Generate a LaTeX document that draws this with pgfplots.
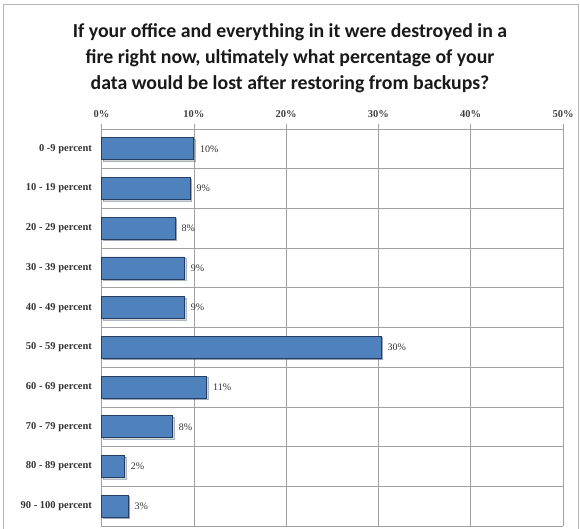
\documentclass[border=0pt]{standalone}
\usepackage{pgfplots}
\pgfplotsset{compat=1.18}
\usepackage{fontspec}
\setmainfont{Liberation Serif}
\newfontfamily\titlefont{Carlito}
\usetikzlibrary{shadows}
\definecolor{barblue}{RGB}{79,129,189}
\definecolor{barline}{RGB}{36,62,102}
\definecolor{gridgray}{RGB}{160,160,160}
\definecolor{framegray}{RGB}{180,180,180}
\begin{document}
\begin{tikzpicture}[x=1pt,y=1pt]
\path[use as bounding box] (-101.5,-3) rectangle (478.5,526);
\draw[framegray, line width=0.8pt] (-98.5,-20) rectangle (476.5,522);
\node[align=center, font=\titlefont\bfseries\fontsize{19.8}{26}\selectfont, text=black!90] at (188.5,468)
  {If your office and everything in it were destroyed in a\\fire right now, ultimately what percentage of your\\data would be lost after restoring from backups?};
\begin{axis}[
  at={(0,0)}, anchor=south west,
  scale only axis, width=461.5pt, height=397pt,
  xbar, bar width=22pt,
  xmin=0, xmax=50,
  ymin=-0.5, ymax=9.5, y dir=reverse,
  xtick={0,10,20,30,40,50},
  xticklabels={0\%,10\%,20\%,30\%,40\%,50\%},
  xticklabel pos=right,
  x tick label style={font=\fontsize{10.5}{12}\selectfont\bfseries, text=black!75, yshift=3pt},
  xmajorgrids, grid style={gridgray, line width=0.6pt},
  ytick={0,...,9},
  yticklabels={0 -9 percent,10 - 19 percent,20 - 29 percent,30 - 39 percent,40 - 49 percent,50 - 59 percent,60 - 69 percent,70 - 79 percent,80 - 89 percent,90 - 100 percent},
  y tick label style={font=\fontsize{10.5}{12}\selectfont\bfseries, text=black!80, xshift=-1pt},
  extra y ticks={-0.5,0.5,1.5,2.5,3.5,4.5,5.5,6.5,7.5,8.5,9.5},
  extra y tick labels={},
  extra y tick style={grid=major, tick align=outside, major tick length=4pt},
  tick align=outside, major tick length=5pt,
  y tick style={draw=none},
  tick style={gridgray, line width=0.6pt},
  axis line style={gridgray, line width=0.6pt},
  axis x line*=top, axis y line*=left,
  separate axis lines,
  point meta=explicit symbolic,
  nodes near coords,
  nodes near coords style={font=\fontsize{10}{12}\selectfont, text=black!80, anchor=west, inner xsep=6pt},
  clip=false,
]
\addplot[fill=barblue, draw=barline, line width=0.8pt,
  drop shadow={shadow xshift=1.5pt, shadow yshift=-1.5pt, opacity=0.35}]
coordinates {(10.0,0)[10\%] (9.6,1)[9\%] (8.0,2)[8\%] (9.0,3)[9\%] (9.0,4)[9\%]
  (30.3,5)[30\%] (11.4,6)[11\%] (7.7,7)[8\%] (2.5,8)[2\%] (2.9,9)[3\%]};
\end{axis}
\end{tikzpicture}
\end{document}
